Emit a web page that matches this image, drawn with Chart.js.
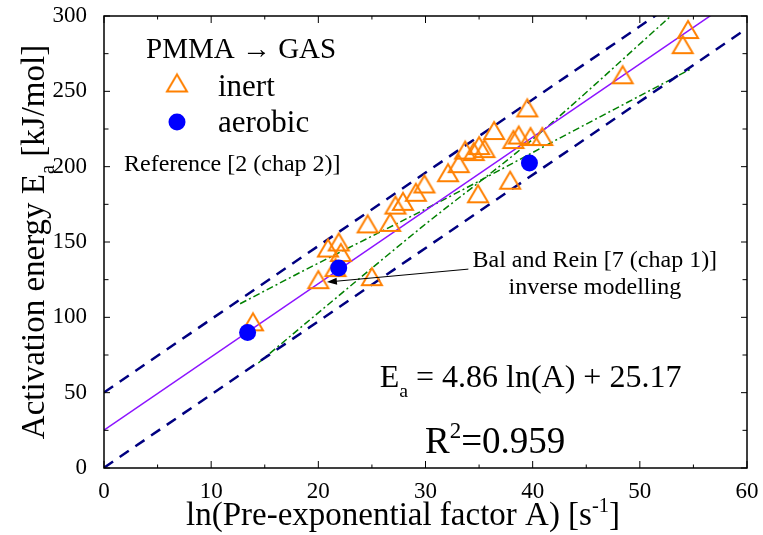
<!DOCTYPE html>
<html>
<head>
<meta charset="utf-8">
<script src="https://cdn.jsdelivr.net/npm/chart.js@4.4.0/dist/chart.umd.min.js"></script>
<style>
  html, body { margin: 0; padding: 0; background: #fff; }
</style>
</head>
<body>
<canvas id="myChart" width="763" height="535"></canvas>
<script>
// PMMA -> GAS : activation energy vs ln(A)

// inert atmosphere results
var inertX = [13.9, 20.0, 25.0, 20.9, 21.9, 22.1, 21.6, 24.6, 26.7, 27.2, 27.9, 29.1, 29.9, 32.1, 33.1,
              33.7, 34.5, 35.0, 35.5, 36.4, 34.9, 37.9, 38.2, 38.7, 39.8, 40.9, 39.5, 48.4, 54.0, 54.5];
var inertY = [97, 125, 127, 146, 150, 143, 133, 162, 163, 174.5, 177, 183, 188.5, 196, 202,
              211, 210, 214, 212, 224, 182, 191, 218, 221, 220, 220, 239, 261, 281, 291];

// aerobic results
var aerobicX = [13.4, 21.9, 39.7];
var aerobicY = [90, 132.7, 202.4];

// linear fit Ea = a ln(A) + b, and the +/- band around it
var fitSlope = 4.86;
var fitIntercept = 25.17;
var bandOffset = 25;
var fitX = [0, 60];

// dash-dot bounds
var lowSlopeX = [12.7, 18.5, 31.4, 43.6, 54.8];
var lowSlopeY = [109, 130.5, 177, 223, 265];
var highSlopeX = [14.4, 20.5, 29.5, 39.8, 52.9];
var highSlopeY = [69.7, 106, 159, 217, 300];

var xTickStep = 10;
var yTickStep = 50;

var serif = '"Liberation Serif", "Times New Roman", serif';
function font(size) { return size + 'px ' + serif; }

function pts(xs, ys) {
    var out = [];
    for (var i = 0; i < xs.length; i++) {
        out.push({ x: xs[i], y: ys[i] });
    }
    return out;
}

function linePts(offset) {
    return fitX.map(function (x) {
        return { x: x, y: fitSlope * x + fitIntercept + offset };
    });
}

// open triangle, centred on its bounding box
function makeTriangle(w, h, color, lw) {
    var c = document.createElement('canvas');
    c.width = Math.ceil(w + lw * 2 + 2);
    c.height = Math.ceil(h + lw * 2 + 2);
    var g = c.getContext('2d');
    var ox = c.width / 2, top = (c.height - h) / 2;
    g.strokeStyle = color;
    g.lineWidth = lw;
    g.lineJoin = 'miter';
    g.beginPath();
    g.moveTo(ox, top);
    g.lineTo(ox - w / 2, top + h);
    g.lineTo(ox + w / 2, top + h);
    g.closePath();
    g.stroke();
    return c;
}

var orange = 'rgb(255, 128, 0)';
var triangle = makeTriangle(20, 17, orange, 2);

// text runs with sub / superscripts
function drawRuns(ctx, runs, x, y, size, align) {
    var widths = runs.map(function (r) {
        ctx.font = font(r.sub || r.sup ? size * 0.62 : size);
        return ctx.measureText(r.t).width;
    });
    var total = widths.reduce(function (a, b) { return a + b; }, 0);
    var cx = x;
    if (align === 'center') cx = x - total / 2;
    if (align === 'right') cx = x - total;
    ctx.textAlign = 'left';
    ctx.textBaseline = 'alphabetic';
    ctx.fillStyle = '#000';
    runs.forEach(function (r, i) {
        var dy = r.sub ? size * 0.3 : (r.sup ? -size * 0.4 : 0);
        ctx.font = font(r.sub || r.sup ? size * 0.62 : size);
        ctx.fillText(r.t, cx, y + dy);
        cx += widths[i];
    });
}

var notes = [
    { runs: [{ t: 'E' }, { t: 'a', sub: true }, { t: ' = 4.86 ln(A) + 25.17' }], x: 39.8, y: 53.5, size: 32 },
    { runs: [{ t: 'R' }, { t: '2', sup: true }, { t: '=0.959' }], x: 36.5, y: 10, size: 37 },
    { runs: [{ t: 'Bal and Rein [7 (chap 1)]' }], x: 45.8, y: 133.4, size: 24 },
    { runs: [{ t: 'inverse modelling' }], x: 45.8, y: 115.5, size: 24 }
];
var arrowFrom = { x: 34.0, y: 132 };
var arrowTo = { x: 20.8, y: 123.4 };

var decorations = {
    id: 'decorations',
    afterDatasetsDraw: function (chart) {
        var ctx = chart.ctx;
        var a = chart.chartArea;
        var xs = chart.scales.x, ys = chart.scales.y;
        ctx.save();

        // frame with inward ticks on all four sides
        ctx.strokeStyle = '#000';
        ctx.lineWidth = 1.5;
        ctx.strokeRect(a.left, a.top, a.right - a.left, a.bottom - a.top);
        ctx.lineWidth = 1;
        ctx.beginPath();
        for (var v = xs.min; v <= xs.max; v += xTickStep / 2) {
            var px = xs.getPixelForValue(v);
            var len = (v % xTickStep === 0) ? 7 : 3.5;
            ctx.moveTo(px, a.bottom); ctx.lineTo(px, a.bottom - len);
            ctx.moveTo(px, a.top); ctx.lineTo(px, a.top + len);
        }
        for (var w = ys.min; w <= ys.max; w += yTickStep / 2) {
            var py = ys.getPixelForValue(w);
            var l2 = (w % yTickStep === 0) ? 6 : 4.5;
            ctx.moveTo(a.left, py); ctx.lineTo(a.left + l2, py);
            ctx.moveTo(a.right, py); ctx.lineTo(a.right - l2, py);
        }
        ctx.stroke();

        // arrow to the inverse modelling point
        var x0 = xs.getPixelForValue(arrowFrom.x), y0 = ys.getPixelForValue(arrowFrom.y);
        var x1 = xs.getPixelForValue(arrowTo.x), y1 = ys.getPixelForValue(arrowTo.y);
        var ang = Math.atan2(y1 - y0, x1 - x0);
        ctx.strokeStyle = '#000';
        ctx.fillStyle = '#000';
        ctx.lineWidth = 1;
        ctx.beginPath();
        ctx.moveTo(x0, y0);
        ctx.lineTo(x1 - Math.cos(ang) * 6, y1 - Math.sin(ang) * 6);
        ctx.stroke();
        ctx.beginPath();
        ctx.moveTo(x1, y1);
        ctx.lineTo(x1 - Math.cos(ang) * 10 + Math.sin(ang) * 3.5, y1 - Math.sin(ang) * 10 - Math.cos(ang) * 3.5);
        ctx.lineTo(x1 - Math.cos(ang) * 10 - Math.sin(ang) * 3.5, y1 - Math.sin(ang) * 10 + Math.cos(ang) * 3.5);
        ctx.closePath();
        ctx.fill();

        notes.forEach(function (n) {
            drawRuns(ctx, n.runs, xs.getPixelForValue(n.x), ys.getPixelForValue(n.y), n.size, 'center');
        });

        // legend
        var lx = a.left, ly = a.top;
        drawRuns(ctx, [{ t: 'PMMA \u2192 GAS' }], lx + 42, ly + 42, 29, 'left');
        ctx.drawImage(triangle, lx + 73 - triangle.width / 2, ly + 67 - triangle.height / 2);
        drawRuns(ctx, [{ t: 'inert' }], lx + 114, ly + 80, 31, 'left');
        ctx.fillStyle = 'rgb(0, 0, 255)';
        ctx.beginPath();
        ctx.arc(lx + 73, ly + 106, 8.5, 0, Math.PI * 2);
        ctx.fill();
        drawRuns(ctx, [{ t: 'aerobic' }], lx + 114, ly + 116, 31, 'left');
        drawRuns(ctx, [{ t: 'Reference [2 (chap 2)]' }], lx + 20, ly + 155, 24, 'left');

        ctx.restore();
    },
    afterDraw: function (chart) {
        var ctx = chart.ctx;
        var a = chart.chartArea;
        ctx.save();
        drawRuns(ctx, [{ t: 'ln(Pre-exponential factor A) [s' }, { t: '-1', sup: true }, { t: ']' }],
            403, 525, 33, 'center');
        ctx.translate(44, (a.top + a.bottom) / 2);
        ctx.rotate(-Math.PI / 2);
        drawRuns(ctx, [{ t: 'Activation energy E' }, { t: 'a', sub: true }, { t: ' [kJ/mol]' }],
            0, 0, 33, 'center');
        ctx.restore();
    }
};

var ctx = document.getElementById('myChart');

var myChart = new Chart(ctx, {
    type: 'scatter',
    data: {
        datasets: [{
            label: 'aerobic',
            data: pts(aerobicX, aerobicY),
            pointStyle: 'circle',
            pointRadius: 8.5,
            backgroundColor: 'rgb(0, 0, 255)',
            borderWidth: 0,
            order: 0
        }, {
            label: 'inert',
            data: pts(inertX, inertY),
            pointStyle: triangle,
            pointRadius: 10,
            clip: false,
            order: 1
        }, {
            label: 'fit',
            data: linePts(0),
            showLine: true,
            borderColor: 'rgb(140, 20, 255)',
            borderWidth: 1.5,
            pointRadius: 0,
            order: 2
        }, {
            label: 'upper band',
            data: linePts(bandOffset),
            showLine: true,
            borderColor: 'rgb(0, 0, 128)',
            borderWidth: 2.5,
            borderDash: [11, 8],
            pointRadius: 0,
            order: 3
        }, {
            label: 'lower band',
            data: linePts(-bandOffset),
            showLine: true,
            borderColor: 'rgb(0, 0, 128)',
            borderWidth: 2.5,
            borderDash: [11, 8],
            pointRadius: 0,
            order: 3
        }, {
            label: 'low slope',
            data: pts(lowSlopeX, lowSlopeY),
            showLine: true,
            borderColor: 'rgb(0, 128, 0)',
            borderWidth: 1.5,
            borderDash: [7, 3, 2, 3],
            cubicInterpolationMode: 'monotone',
            pointRadius: 0,
            order: 4
        }, {
            label: 'high slope',
            data: pts(highSlopeX, highSlopeY),
            showLine: true,
            borderColor: 'rgb(0, 128, 0)',
            borderWidth: 1.5,
            borderDash: [7, 3, 2, 3],
            cubicInterpolationMode: 'monotone',
            pointRadius: 0,
            order: 4
        }]
    },
    options: {
        responsive: false,
        animation: false,
        events: [],
        layout: { padding: 0 },
        plugins: {
            legend: { display: false },
            tooltip: { enabled: false }
        },
        scales: {
            x: {
                type: 'linear',
                min: 0,
                max: 60,
                grid: { display: false, drawTicks: false },
                border: { display: false },
                ticks: {
                    stepSize: xTickStep,
                    autoSkip: false,
                    maxRotation: 0,
                    padding: 10,
                    color: '#000',
                    font: { family: serif, size: 23 }
                },
                afterFit: function (s) {
                    s.height = 67;
                    s.paddingLeft = 0;
                    s.paddingRight = 16;
                }
            },
            y: {
                type: 'linear',
                min: 0,
                max: 300,
                grid: { display: false, drawTicks: false },
                border: { display: false },
                ticks: {
                    stepSize: yTickStep,
                    autoSkip: false,
                    padding: 17,
                    color: '#000',
                    font: { family: serif, size: 23 }
                },
                afterFit: function (s) {
                    s.width = 104;
                    s.paddingTop = 16;
                    s.paddingBottom = 0;
                }
            }
        }
    },
    plugins: [decorations]
});
</script>
</body>
</html>
